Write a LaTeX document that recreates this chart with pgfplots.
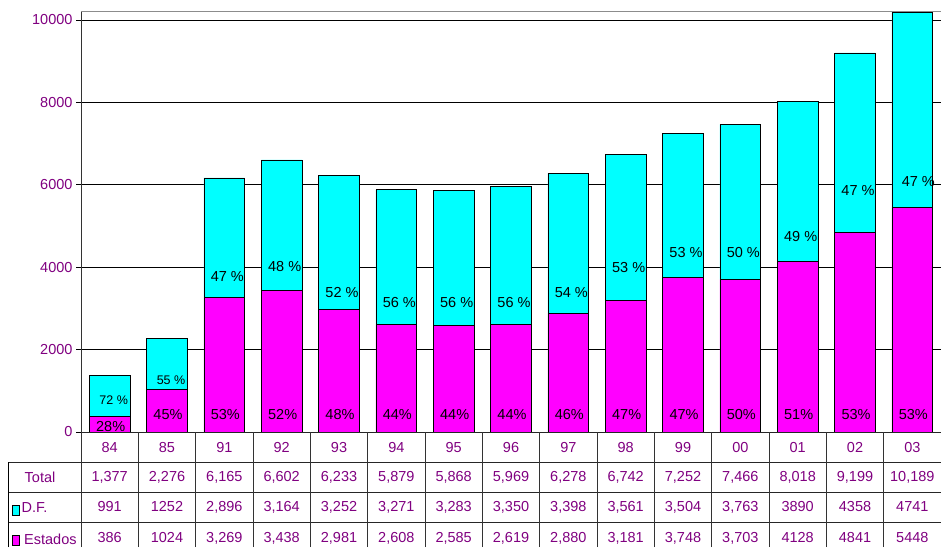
\documentclass[border=0pt]{standalone}
\usepackage{pgfplots}
\pgfplotsset{compat=1.18}
\usepackage{fontspec}
\setmainfont{Liberation Sans}
\definecolor{cy}{RGB}{0,255,255}
\definecolor{mg}{RGB}{255,0,255}
\definecolor{pu}{RGB}{128,0,128}
\newcommand\fsz{\fontsize{14.5}{16}\selectfont}
\newcommand\fpc{\fontsize{14.5}{16}\selectfont}
\newcommand\fsm{\fontsize{12.5}{14}\selectfont}
\begin{document}
\begin{tikzpicture}[x=1pt,y=1pt]
\useasboundingbox (0,0) rectangle (941,547);
\begin{axis}[
  at={(81pt,115pt)}, anchor=south west, scale only axis,
  width=860pt, height=420pt,
  xmin=-0.5, xmax=14.5, ymin=0, ymax=10194,
  ybar stacked, bar width=0.71,
  axis x line*=bottom, axis y line*=left,
  axis line style={draw=black!80, line width=1pt, -},
  xtick={0,...,14},
  xticklabels={84,85,91,92,93,94,95,96,97,98,99,00,01,02,03},
  x tick label style={font=\fsz, text=pu, anchor=center, yshift=-11pt},
  x tick style={draw=none},
  ytick={0,2000,...,10000},
  scaled y ticks=false,
  ymajorgrids, grid style={black, line width=0.9pt},
  y tick style={black, line width=0.9pt}, tick align=outside, major tick length=5pt,
  yticklabel style={font=\fsz, text=pu},
  /pgf/number format/assume math mode=true,
  /pgf/number format/1000 sep={},
  clip=false,
]
% Estados
\addplot[fill=mg, draw=black, line width=0.9pt] coordinates {
 (0,386) (1,1024) (2,3269) (3,3438) (4,2981) (5,2608) (6,2585) (7,2619)
 (8,2880) (9,3181) (10,3748) (11,3703) (12,4128) (13,4841) (14,5448)};
% D.F.
\addplot[fill=cy, draw=black, line width=0.9pt] coordinates {
 (0,991) (1,1252) (2,2896) (3,3164) (4,3252) (5,3271) (6,3283) (7,3350)
 (8,3398) (9,3561) (10,3504) (11,3763) (12,3890) (13,4358) (14,4741)};
\draw[black!45, line width=1pt] (rel axis cs:0,1) -- (rel axis cs:1,1);
% anchor points for percentage labels, D.F.
\coordinate (d0) at (axis cs:0,777);
\coordinate (d1) at (axis cs:1,1262);
\coordinate (d2) at (axis cs:2,3762);
\coordinate (d3) at (axis cs:3,4005);
\coordinate (d4) at (axis cs:4,3374);
\coordinate (d5) at (axis cs:5,3131);
\coordinate (d6) at (axis cs:6,3131);
\coordinate (d7) at (axis cs:7,3131);
\coordinate (d8) at (axis cs:8,3374);
\coordinate (d9) at (axis cs:9,3990);
\coordinate (d10) at (axis cs:10,4345);
\coordinate (d11) at (axis cs:11,4345);
\coordinate (d12) at (axis cs:12,4733);
\coordinate (d13) at (axis cs:13,5873);
\coordinate (d14) at (axis cs:14,6068);
% anchor points for percentage labels, Estados
\coordinate (e0) at (axis cs:0,125);
\coordinate (e1) at (axis cs:1,413);
\coordinate (e2) at (axis cs:2,413);
\coordinate (e3) at (axis cs:3,413);
\coordinate (e4) at (axis cs:4,413);
\coordinate (e5) at (axis cs:5,413);
\coordinate (e6) at (axis cs:6,413);
\coordinate (e7) at (axis cs:7,413);
\coordinate (e8) at (axis cs:8,413);
\coordinate (e9) at (axis cs:9,413);
\coordinate (e10) at (axis cs:10,413);
\coordinate (e11) at (axis cs:11,413);
\coordinate (e12) at (axis cs:12,413);
\coordinate (e13) at (axis cs:13,413);
\coordinate (e14) at (axis cs:14,413);
\end{axis}
% percentage labels
\node[font=\fsm, xshift=4pt] at (d0) {72 \%};
\node[font=\fsm, xshift=4pt] at (d1) {55 \%};
\foreach \p/\t in {2/47,3/48,4/52,5/56,6/56,7/56,8/54,9/53,10/53,11/50,12/49,13/47}
  \node[font=\fpc, xshift=3pt] at (d\p) {\t\ \%};
\node[font=\fpc, xshift=6pt] at (d14) {47 \%};
\foreach \p/\t in {0/28,1/45,2/53,3/52,4/48,5/44,6/44,7/44,8/46,9/47,10/47,11/50,12/51,13/53,14/53}
  \node[font=\fpc, xshift=1pt] at (e\p) {\t\%};
% data table below the chart
\fill[white] (82,107) rectangle (941,114.5);
\draw[black!85, line width=1pt] (81,115) -- (941,115);
\foreach \yy in {85,55,25} \draw[black!85, line width=1pt] (8,\yy) -- (941,\yy);
\draw[black!85, line width=1pt] (8,0) -- (8,85);
\foreach \k in {0,...,14} \draw[black!80, line width=1pt] ({81+57.333*\k},0) -- ({81+57.333*\k},115);
\foreach \lab [count=\i from 0] in {1{,}377,2{,}276,6{,}165,6{,}602,6{,}233,5{,}879,5{,}868,5{,}969,6{,}278,6{,}742,7{,}252,7{,}466,8{,}018,9{,}199,10{,}189}
  \node[font=\fsz, text=pu] at ({81+57.333*(\i+0.5)},70) {\lab};
\foreach \lab [count=\i from 0] in {991,1252,2{,}896,3{,}164,3{,}252,3{,}271,3{,}283,3{,}350,3{,}398,3{,}561,3{,}504,3{,}763,3890,4358,4741}
  \node[font=\fsz, text=pu] at ({81+57.333*(\i+0.5)},40) {\lab};
\foreach \lab [count=\i from 0] in {386,1024,3{,}269,3{,}438,2{,}981,2{,}608,2{,}585,2{,}619,2{,}880,3{,}181,3{,}748,3{,}703,4128,4841,5448}
  \node[font=\fsz, text=pu] at ({81+57.333*(\i+0.5)},9) {\lab};
\node[font=\fsz, text=pu] at (40,70) {Total};
\draw[black, line width=0.9pt] (8,0) -- (8,85);
\draw[black, line width=0.9pt, fill=cy] (12,32) rectangle (19.5,42);
\node[font=\fsz, text=pu, anchor=west, inner sep=0pt] at (21.5,39.5) {D.F.};
\draw[black, line width=0.9pt, fill=mg] (12,2) rectangle (19.5,12);
\node[font=\fsz, text=pu, anchor=west, inner sep=0pt] at (24,8) {Estados};
\end{tikzpicture}
\end{document}
